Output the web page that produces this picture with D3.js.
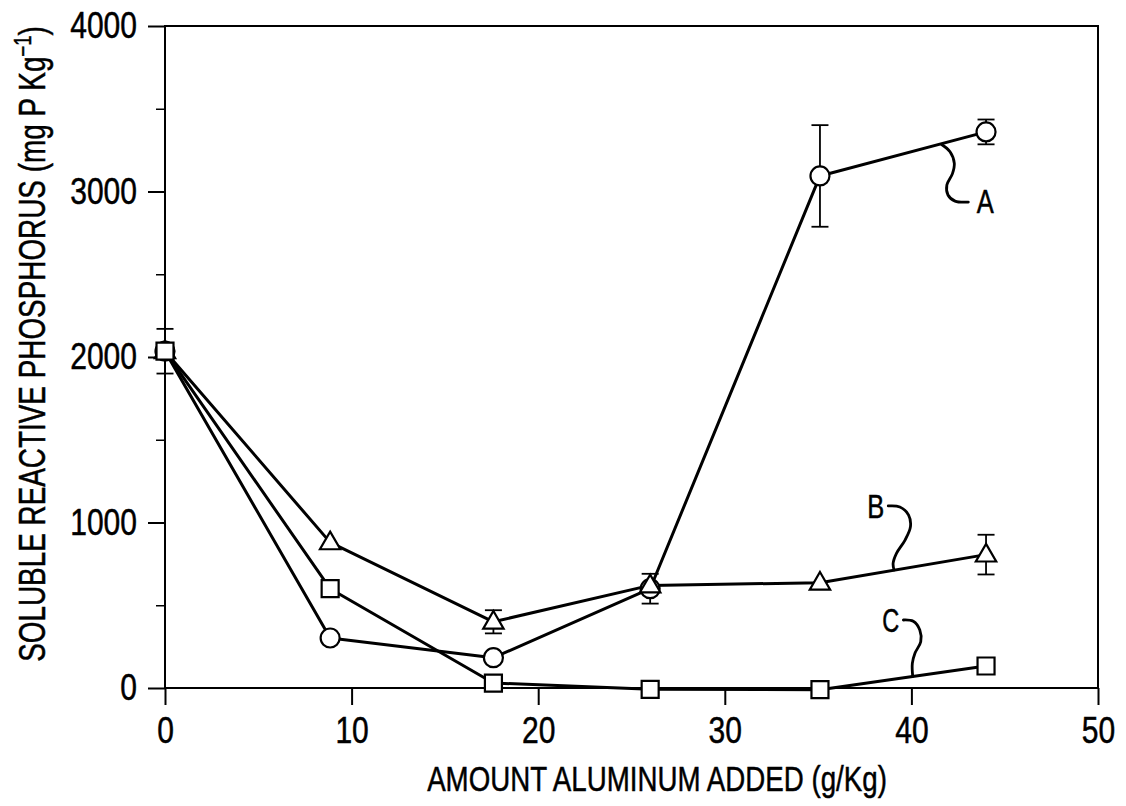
<!DOCTYPE html>
<html>
<head>
<meta charset="utf-8">
<script src="https://cdn.jsdelivr.net/npm/d3@7"></script>
<style>
  html, body { margin: 0; padding: 0; background: #fff; }
  svg { display: block; }
  text { font-family: "Liberation Sans", Arial, sans-serif; fill: #000; stroke: #000; stroke-width: 0.5px; }
</style>
</head>
<body>
<svg id="chart" width="1126" height="806"></svg>
<script>
// ---- data ----
const xValues = [0, 8.85, 17.6, 26.0, 35.1, 44.0];
const seriesA = [2035, 302, 183, 600, 3094, 3360];   // circles
const errorsA = [135, 0, 0, 90, 307, 75];
const seriesB = [2035, 880, 400, 620, 636, 806];     // triangles
const errorsB = [0, 0, 70, 0, 0, 120];
const seriesC = [2035, 600, 30, -8, -10, 133];       // squares
const errorsC = [0, 0, 0, 0, 0, 0];

const xTicks = [0, 10, 20, 30, 40, 50];
const yTicks = [0, 1000, 2000, 3000, 4000];
const yMinorTicks = [500, 1500, 2500, 3500];

const xTitle = "AMOUNT ALUMINUM ADDED (g/Kg)";
const yTitleMain = "SOLUBLE REACTIVE PHOSPHORUS (mg P Kg";
const yTitleSup = "−1";
const yTitleEnd = ")";

// annotation leader curves (data units)
const labelA = { text: "A", x: 43.5, y: 2870,
  curve: [[41.62, 3284], [42.07, 3240], [42.3, 3170], [42.2, 3108], [41.9, 3039], [41.96, 2979], [42.34, 2942], [43.05, 2936]] };
const labelB = { text: "B", x: 38.55, y: 1027,
  curve: [[38.76, 1100], [39.38, 1094], [39.85, 1045], [39.95, 975], [39.66, 894], [39.2, 814], [39.02, 753], [39.07, 713]] };
const labelC = { text: "C", x: 39.35, y: 338,
  curve: [[39.57, 411], [40.1, 403], [40.45, 350], [40.5, 280], [40.19, 210], [40.05, 149], [40.07, 70]] };

// ---- layout ----
const svg = d3.select("#chart");
const x = d3.scaleLinear().domain([0, 50]).range([165, 1098]);
const y = d3.scaleLinear().domain([0, 4000]).range([688, 26]);
const digitW = 16.7;

// frame
svg.append("rect")
  .attr("x", x(0)).attr("y", y(4000))
  .attr("width", x(50) - x(0)).attr("height", y(0) - y(4000))
  .attr("fill", "none").attr("stroke", "#000").attr("stroke-width", 2);

function styleTickText(sel) {
  sel.style("font-size", "37px")
    .attr("font-family", "Liberation Sans, Arial, sans-serif")
    .attr("textLength", function () { return this.textContent.length * digitW; })
    .attr("lengthAdjust", "spacingAndGlyphs");
}

// x axis
const xAxis = d3.axisBottom(x).tickValues(xTicks).tickSize(17).tickPadding(12).tickFormat(d3.format("d"));
const gx = svg.append("g").attr("transform", `translate(0,${y(0)})`).call(xAxis);
gx.select(".domain").remove();
gx.selectAll("line").attr("stroke", "#000").attr("stroke-width", 2);
styleTickText(gx.selectAll("text"));

// y axis
const yAxis = d3.axisLeft(y).tickValues(yTicks).tickSize(17).tickPadding(11).tickFormat(d3.format("d"));
const gy = svg.append("g").attr("transform", `translate(${x(0)},0)`).call(yAxis);
gy.select(".domain").remove();
gy.selectAll("line").attr("stroke", "#000").attr("stroke-width", 2);
styleTickText(gy.selectAll("text"));

const yMinor = d3.axisLeft(y).tickValues(yMinorTicks).tickSize(9).tickFormat("");
const gym = svg.append("g").attr("transform", `translate(${x(0)},0)`).call(yMinor);
gym.select(".domain").remove();
gym.selectAll("line").attr("stroke", "#000").attr("stroke-width", 1.5);

// axis titles (horizontal compression via transform so bounding boxes are true)
const xt = svg.append("text")
  .attr("text-anchor", "middle")
  .style("font-size", "36px")
  .text(xTitle);
const xtLen = xt.node().getComputedTextLength();
xt.attr("transform", `translate(657,791) scale(${460 / xtLen},1)`);

const yt = svg.append("text")
  .attr("text-anchor", "middle")
  .style("font-size", "36px");
yt.append("tspan").text(yTitleMain);
yt.append("tspan").attr("dy", -14).style("font-size", "24px").text(yTitleSup);
yt.append("tspan").attr("dy", 14).text(yTitleEnd);
const ytLen = yt.node().getComputedTextLength();
yt.attr("transform", `translate(45,344) rotate(-90) scale(${636 / ytLen},1)`);

// series
const seriesList = [
  { vals: seriesA, errs: errorsA, shape: "circle" },
  { vals: seriesB, errs: errorsB, shape: "triangle" },
  { vals: seriesC, errs: errorsC, shape: "square" }
];

const line = d3.line().x(d => x(d[0])).y(d => y(d[1]));

seriesList.forEach(s => {
  const pts = xValues.map((xv, i) => [xv, s.vals[i]]);
  svg.append("path").attr("d", line(pts))
    .attr("fill", "none").attr("stroke", "#000").attr("stroke-width", 3).attr("stroke-linejoin", "round");
});

// error bars
seriesList.forEach(s => {
  xValues.forEach((xv, i) => {
    const e = s.errs[i];
    if (!e) return;
    const g = svg.append("g").attr("stroke", "#000").attr("stroke-width", 1.8);
    g.append("line").attr("x1", x(xv)).attr("x2", x(xv)).attr("y1", y(s.vals[i] + e)).attr("y2", y(s.vals[i] - e));
    [s.vals[i] + e, s.vals[i] - e].forEach(v => {
      g.append("line").attr("x1", x(xv) - 8.5).attr("x2", x(xv) + 8.5).attr("y1", y(v)).attr("y2", y(v));
    });
  });
});

// markers
const symCircle = d3.symbol().type(d3.symbolCircle).size(Math.PI * 9.5 * 9.5);
const symTri = d3.symbol().type(d3.symbolTriangle).size(180);
const symSq = d3.symbol().type(d3.symbolSquare).size(17 * 17);

seriesList.forEach(s => {
  const gen = s.shape === "circle" ? symCircle : s.shape === "triangle" ? symTri : symSq;
  xValues.forEach((xv, i) => {
    svg.append("path")
      .attr("d", gen())
      .attr("transform", `translate(${x(xv)},${y(s.vals[i]) + (s.shape === "triangle" ? 1 : 0)})`)
      .attr("fill", "#fff").attr("stroke", "#000").attr("stroke-width", 2.2);
  });
});

// annotations
const curveLine = d3.line().x(d => x(d[0])).y(d => y(d[1])).curve(d3.curveCatmullRom.alpha(0.5));
[labelA, labelB, labelC].forEach((lab, k) => {
  svg.append("path").attr("d", curveLine(lab.curve))
    .attr("fill", "none").attr("stroke", "#000").attr("stroke-width", 2.8).attr("stroke-linecap", "round");
  svg.append("text")
    .attr("x", x(lab.x)).attr("y", y(lab.y))
    .attr("text-anchor", k === 0 ? "start" : "end")
    .attr("textLength", 17).attr("lengthAdjust", "spacingAndGlyphs")
    .style("font-size", "33px")
    .text(lab.text);
});
</script>
</body>
</html>
